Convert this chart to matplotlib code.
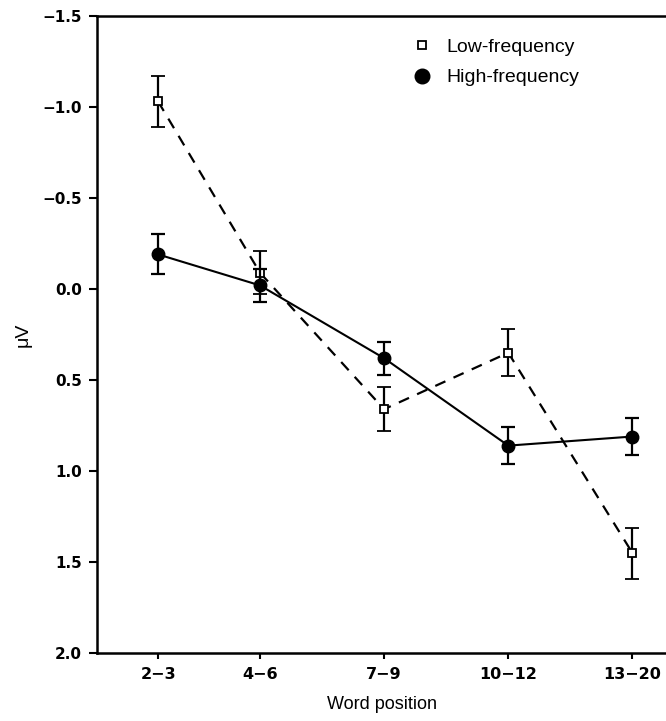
import matplotlib
matplotlib.use('Agg')
import matplotlib.pyplot as plt
from matplotlib.lines import Line2D

# word position bins and mean amplitudes (uV), negative plotted upward
positions = ['2\u22123', '4\u22126', '7\u22129', '10\u221212', '13\u221220']
lowFreq = [-1.03, -0.09, 0.66, 0.35, 1.45]
lowFreqErr = [0.14, 0.12, 0.12, 0.13, 0.14]
highFreq = [-0.19, -0.02, 0.38, 0.86, 0.81]
highFreqErr = [0.11, 0.09, 0.09, 0.10, 0.10]

xpos = [0.18, 1.0, 2.0, 3.0, 4.0]

plt.rcParams['font.family'] = ['Liberation Sans', 'DejaVu Sans']

fig = plt.figure(figsize=(6.66, 7.21), dpi=100)
ax = fig.add_axes([0.146, 0.094, 0.854, 0.884])

ax.errorbar(xpos, lowFreq, yerr=lowFreqErr, color='black', linestyle=(0, (5, 4)),
            linewidth=1.6, marker='s', markersize=5.5, markerfacecolor='white',
            markeredgecolor='black', markeredgewidth=1.3, capsize=4.7,
            elinewidth=1.6, capthick=1.6, zorder=3)
ax.errorbar(xpos, highFreq, yerr=highFreqErr, color='black', linestyle='-',
            linewidth=1.5, marker='o', markersize=9, markerfacecolor='black',
            markeredgecolor='black', capsize=4.7, elinewidth=1.6,
            capthick=1.6, zorder=4)

ax.set_xlim(-0.31, 4.27)
ax.set_ylim(2.0, -1.5)
ax.set_yticks([-1.5, -1.0, -0.5, 0.0, 0.5, 1.0, 1.5, 2.0])
ax.set_yticklabels(['\u22121.5', '\u22121.0', '\u22120.5', '0.0', '0.5', '1.0', '1.5', '2.0'])
ax.set_xticks(xpos)
ax.set_xticklabels(positions)

for lbl in ax.get_yticklabels():
    lbl.set_fontfamily('DejaVu Sans')
    lbl.set_fontweight('bold')
    lbl.set_fontsize(11)
for lbl in ax.get_xticklabels():
    lbl.set_fontfamily('DejaVu Sans')
    lbl.set_fontweight('bold')
    lbl.set_fontsize(11.5)

ax.tick_params(axis='y', direction='out', length=6, width=1.5, pad=5)
ax.tick_params(axis='x', direction='out', length=4, width=1.5, pad=6)
ax.spines['right'].set_visible(False)
for s in ['left', 'top', 'bottom']:
    ax.spines[s].set_linewidth(1.8)

ax.set_xlabel('Word position', fontsize=13, labelpad=10)
ax.set_ylabel('\u03bcV', fontsize=14, labelpad=8)

handles = [
    Line2D([], [], linestyle='none', marker='s', markersize=6,
           markerfacecolor='white', markeredgecolor='black', markeredgewidth=1.3),
    Line2D([], [], linestyle='none', marker='o', markersize=10.5,
           markerfacecolor='black', markeredgecolor='black'),
]
ax.legend(handles, ['Low-frequency', 'High-frequency'], loc='upper left',
          bbox_to_anchor=(0.52, 0.992), frameon=False, fontsize=14,
          handletextpad=0.64, labelspacing=0.65, handlelength=1.2)

fig.savefig('out.png', dpi=100)
